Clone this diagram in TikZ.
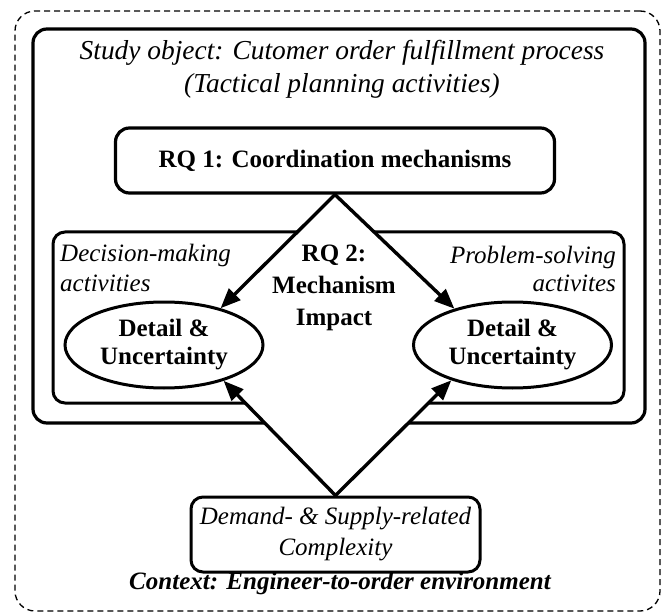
\documentclass[tikz,border=0pt]{standalone}
\usepackage{fontspec}
\setmainfont{Liberation Serif}
\usetikzlibrary{arrows.meta,shapes.geometric,backgrounds}
\begin{document}
\begin{tikzpicture}[x=1pt,y=-1pt,
  solidbox/.style={draw, line width=3.2pt, rounded corners=14pt, inner sep=0pt},
  dashbox/.style={draw, line width=1.3pt, dash pattern=on 6pt off 4pt, rounded corners=20pt, inner sep=0pt},
  ellbox/.style={draw, ellipse, line width=3pt, fill=white, minimum width=198pt, minimum height=86pt, inner sep=0pt, align=center, font=\fontsize{25}{28}\selectfont\bfseries},
  txt/.style={inner sep=0pt, font=\fontsize{25}{30}\selectfont},
  arr/.style={line width=3.4pt, line join=miter, {Triangle[length=20pt,width=16pt]}-{Triangle[length=20pt,width=16pt]}}
]
\useasboundingbox (0,0) rectangle (662,615);

% main nodes
\node[solidbox, fill=white, minimum width=439pt, minimum height=65pt, font=\fontsize{25}{30}\selectfont\bfseries] (rq1) at (335,160.5) {RQ 1: Coordination mechanisms};
\node[solidbox, line width=3pt, rounded corners=12pt, fill=white, minimum width=289pt, minimum height=75pt, align=center, font=\fontsize{25}{31}\selectfont\itshape] (dem) at (335.5,534.5) {Demand- \& Supply-related\\Complexity};
\node[ellbox] (ell1) at (164,345) {Detail \&\\Uncertainty};
\node[ellbox] (ell2) at (512.5,345) {Detail \&\\Uncertainty};

% texts
\node[txt, align=center, font=\fontsize{27.4}{33}\selectfont\itshape] (study) at (342,69) {Study object: Cutomer order fulfillment process\\(Tactical planning activities)};
\node[txt, anchor=west, align=left, font=\fontsize{25}{30}\selectfont\itshape] (dec) at (60,268) {Decision-making\\activities};
\node[txt, anchor=east, align=right, font=\fontsize{25}{28}\selectfont\itshape] (prob) at (616,269) {Problem-solving\\activites};
\node[txt, align=center, font=\fontsize{25}{32}\selectfont\bfseries] (rq2) at (334,288) {RQ 2:\\Mechanism\\Impact};
\node[txt, font=\fontsize{25}{30}\selectfont\bfseries\itshape] (ctx) at (340,583) {Context: Engineer-to-order environment};

% arrows
\draw[arr] (ell1.33) -- (rq1.south) -- (ell2.148);
\draw[arr] (ell1.-31) -- (dem.north) -- (ell2.-150);

\begin{pgfonlayer}{background}
  \fill[white] (0,0) rectangle (662,615);
  \node[dashbox, minimum width=645pt, minimum height=600pt] (ctxbox) at (337.5,311) {};
  \node[solidbox, minimum width=612pt, minimum height=394pt] (outer) at (339,226) {};
  \node[solidbox, line width=3pt, rounded corners=12pt, minimum width=571pt, minimum height=171pt] (inner) at (338.5,317.5) {};
  \fill[white] (rq1.south) -- (ell1.33) -- (ell1.center) -- (ell1.-31) -- (dem.north) -- (ell2.-150) -- (ell2.center) -- (ell2.148) -- cycle;
\end{pgfonlayer}
\end{tikzpicture}
\end{document}
